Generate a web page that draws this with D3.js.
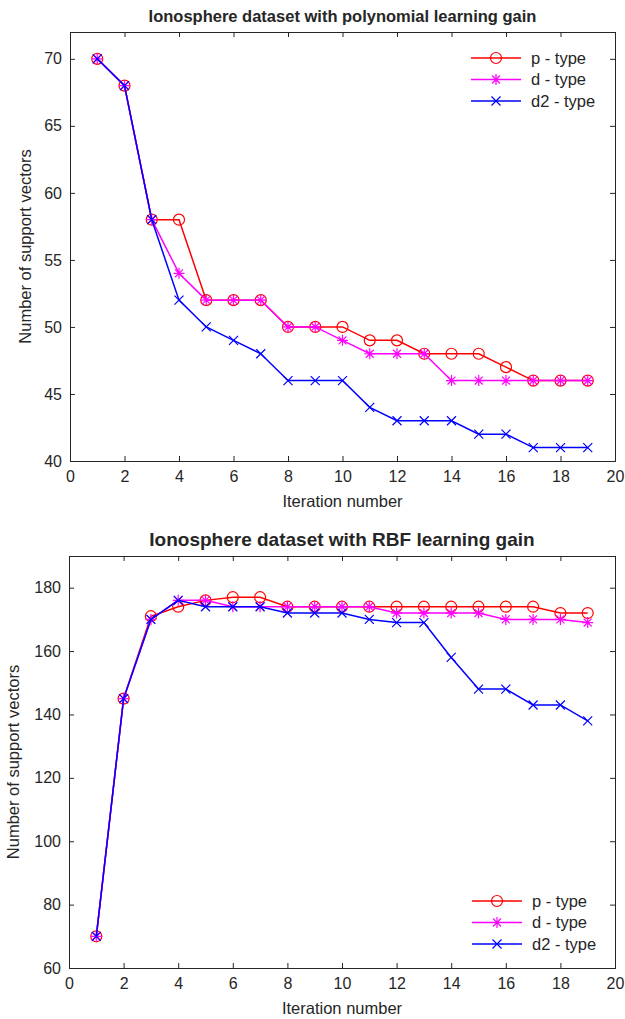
<!DOCTYPE html>
<html><head><meta charset="utf-8">
<script src="https://cdn.jsdelivr.net/npm/d3@7"></script>
<style>
body{margin:0;background:#fff;}
text{font-family:"Liberation Sans",Arial,sans-serif;fill:#262626;}
</style></head>
<body>
<svg id="c" width="625" height="1019"></svg>
<script>
// ---- data ----
const iterations = [1,2,3,4,5,6,7,8,9,10,11,12,13,14,15,16,17,18,19];
const seriesNames = ["p - type","d - type","d2 - type"];
const seriesColors = ["#ff0000","#ff00ff","#0000ff"];
const seriesMarkers = ["circle","asterisk","cross"];

const polyP  = [70,68,58,58,52,52,52,50,50,50,49,49,48,48,48,47,46,46,46];
const polyD  = [70,68,58,54,52,52,52,50,50,49,48,48,48,46,46,46,46,46,46];
const polyD2 = [70,68,58,52,50,49,48,46,46,46,44,43,43,43,42,42,41,41,41];

const rbfP  = [70,145,171,174,176,177,177,174,174,174,174,174,174,174,174,174,174,172,172];
const rbfD  = [70,145,170,176,176,174,174,174,174,174,174,172,172,172,172,170,170,170,169];
const rbfD2 = [70,145,170,176,174,174,174,172,172,172,170,169,169,158,148,148,143,143,138];

const xTicks = [0,2,4,6,8,10,12,14,16,18,20];
const polyYTicks = [40,45,50,55,60,65,70];
const rbfYTicks = [60,80,100,120,140,160,180];

const titles = ["Ionosphere dataset with polynomial learning gain","Ionosphere dataset with RBF learning gain"];
const xLabel = "Iteration number";
const yLabel = "Number of support vectors";

const svg = d3.select("#c");

function marker(g, type, x, y, color){
  if(type==="circle"){
    g.append("circle").attr("cx",x).attr("cy",y).attr("r",5.5)
      .attr("fill","none").attr("stroke",color).attr("stroke-width",1.2);
  } else if(type==="asterisk"){
    const s=5.5, d=s*0.72;
    const p = `M${x-s},${y}L${x+s},${y}M${x},${y-s}L${x},${y+s}M${x-d},${y-d}L${x+d},${y+d}M${x-d},${y+d}L${x+d},${y-d}`;
    g.append("path").attr("d",p).attr("stroke",color).attr("stroke-width",1.2).attr("fill","none");
  } else {
    const s=4.5;
    const p = `M${x-s},${y-s}L${x+s},${y+s}M${x-s},${y+s}L${x+s},${y-s}`;
    g.append("path").attr("d",p).attr("stroke",color).attr("stroke-width",1.2).attr("fill","none");
  }
}

function panel(opt){
  const {left,right,top,bottom,yDomain,yTicks,series,title,titleSize,yLabelX,legendX,legendY} = opt;
  const x = d3.scaleLinear().domain([0,20]).range([left,right]);
  const y = d3.scaleLinear().domain(yDomain).range([bottom,top]);
  const g = svg.append("g");
  g.append("rect").attr("x",left).attr("y",top).attr("width",right-left).attr("height",bottom-top)
    .attr("fill","#fff").attr("stroke","none");
  const axColor="#262626";
  const xb = d3.axisBottom(x).tickValues(xTicks).tickSize(-5).tickPadding(10).tickFormat(d3.format("d"));
  const xt = d3.axisTop(x).tickValues(xTicks).tickSize(-5).tickFormat("");
  const yl = d3.axisLeft(y).tickValues(yTicks).tickSize(-5).tickPadding(8).tickFormat(d3.format("d"));
  const yr = d3.axisRight(y).tickValues(yTicks).tickSize(-5).tickFormat("");
  [[xb,`translate(0,${bottom})`],[xt,`translate(0,${top})`],[yl,`translate(${left},0)`],[yr,`translate(${right},0)`]].forEach(([ax,tr])=>{
    const a = g.append("g").attr("transform",tr).call(ax);
    a.select(".domain").attr("stroke",axColor).attr("stroke-width",1);
    a.selectAll(".tick line").attr("stroke",axColor).attr("stroke-width",1);
    a.selectAll(".tick text").attr("fill","#333").style("font-size","16px").style("font-family","'Liberation Sans',Arial,sans-serif");
  });
  g.append("text").attr("x",(left+right)/2).attr("y",top-10).attr("text-anchor","middle")
    .style("font-weight","bold").style("font-size",titleSize+"px").text(title);
  g.append("text").attr("x",(left+right)/2).attr("y",bottom+46).attr("text-anchor","middle")
    .style("font-size","16.5px").text(xLabel);
  g.append("text").attr("transform",`translate(${yLabelX},${(top+bottom)/2}) rotate(-90)`)
    .attr("text-anchor","middle").style("font-size","16.5px").text(yLabel);
  const line = d3.line().x((d,i)=>x(iterations[i])).y(d=>y(d));
  series.forEach((vals,k)=>{
    const sg = g.append("g");
    sg.append("path").datum(vals).attr("d",line).attr("fill","none")
      .attr("stroke",seriesColors[k]).attr("stroke-width",1.5);
    vals.forEach((v,i)=>marker(sg,seriesMarkers[k],x(iterations[i]),y(v),seriesColors[k]));
  });
  seriesNames.forEach((name,k)=>{
    const ly = legendY + k*21.5;
    g.append("line").attr("x1",legendX).attr("x2",legendX+50).attr("y1",ly).attr("y2",ly)
      .attr("stroke",seriesColors[k]).attr("stroke-width",1.5);
    marker(g,seriesMarkers[k],legendX+25,ly,seriesColors[k]);
    g.append("text").attr("x",legendX+60).attr("y",ly+5.5).style("font-size","16.5px").text(name);
  });
}

panel({left:70,right:615,top:32,bottom:461,yDomain:[40,72],yTicks:polyYTicks,
  series:[polyP,polyD,polyD2],title:titles[0],titleSize:16.5,yLabelX:31,legendX:471,legendY:58});
panel({left:69,right:615,top:556,bottom:968,yDomain:[60,190],yTicks:rbfYTicks,
  series:[rbfP,rbfD,rbfD2],title:titles[1],titleSize:19,yLabelX:19,legendX:472,legendY:901});
</script>
</body></html>
